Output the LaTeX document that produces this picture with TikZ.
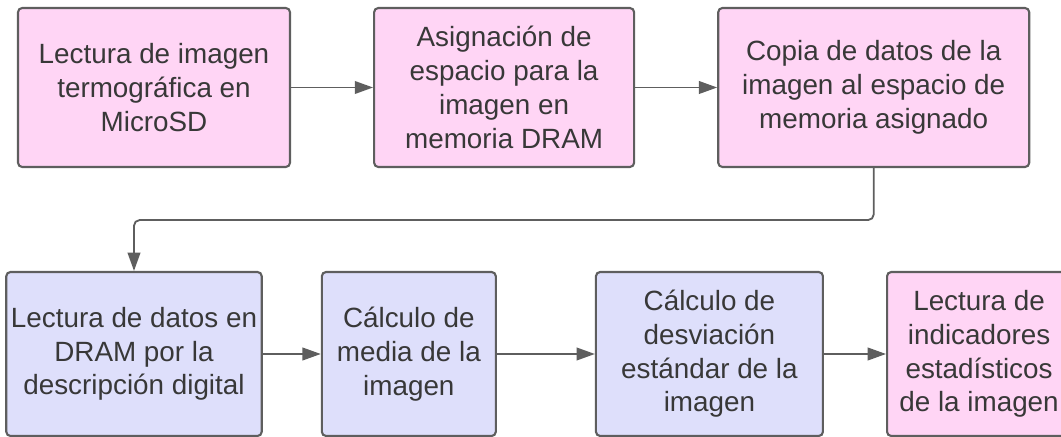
\documentclass[tikz,border=0pt]{standalone}
\usepackage{fontspec}
\setmainfont{Liberation Sans}
\usepackage{tikz}
\usetikzlibrary{arrows.meta, positioning}
\usepackage{xcolor}
\definecolor{boxpink}{HTML}{FFD5F5}
\definecolor{boxblue}{HTML}{DEDFFB}
\definecolor{linegray}{HTML}{5E5E5E}
\definecolor{textgray}{HTML}{383838}

\begin{document}
\begin{tikzpicture}[ node distance=2cm, 
box/.style={draw=linegray, 
line width=1.5pt, 
rectangle, 
rounded corners=3pt, 
text=textgray, 
font=\fontsize{19.8}{24}\selectfont, 
align=center}, 
pinkbox/.style={box, fill=boxpink}, 
bluebox/.style={box, fill=boxblue}, 
arrow/.style={-{Triangle[length=13pt, width=9pt]}, line width=1.3pt, draw=linegray} 
]

\useasboundingbox (0,0) rectangle (26.525,-10.925);

\node[pinkbox, minimum width=6.8cm, minimum height=3.975cm] (read) at (3.85,-2.1875) {Lectura de imagen\\termográfica en\\MicroSD}; 
\node[pinkbox, minimum width=6.5cm, minimum height=3.975cm, right=2.05cm of read] (alloc) {Asignación de\\espacio para la\\imagen en\\memoria DRAM}; 
\node[pinkbox, minimum width=7.775cm, minimum height=3.975cm, right=2.05cm of alloc] (copy) {Copia de datos de la\\imagen al espacio de\\memoria asignado};

\node[bluebox, minimum width=6.3cm, minimum height=4.1cm] (fetch) at (3.35,-8.85) {Lectura de datos en\\DRAM por la\\descripción digital}; 
\node[bluebox, minimum width=4.35cm, minimum height=4.1cm, right=1.45cm of fetch] (mean) {Cálculo de\\media de la\\imagen}; 
\node[bluebox, minimum width=5.675cm, minimum height=4.1cm, right=2.45cm of mean] (stdev) {Cálculo de\\desviación\\estándar de la\\imagen}; 
\node[pinkbox, minimum width=4.6cm, minimum height=4.1cm, right=1.55cm of stdev] (stats) {Lectura de\\indicadores\\estadísticos\\de la imagen};

\draw[arrow] (read) -- (alloc); 
\draw[arrow] (alloc) -- (copy); 
\draw[arrow, rounded corners=4pt] (copy.south) -- ++(0,-1.3) -| (fetch.north); 
\draw[arrow] (fetch) -- (mean); 
\draw[arrow] (mean) -- (stdev); 
\draw[arrow] (stdev) -- (stats);

\end{tikzpicture}
\end{document}
